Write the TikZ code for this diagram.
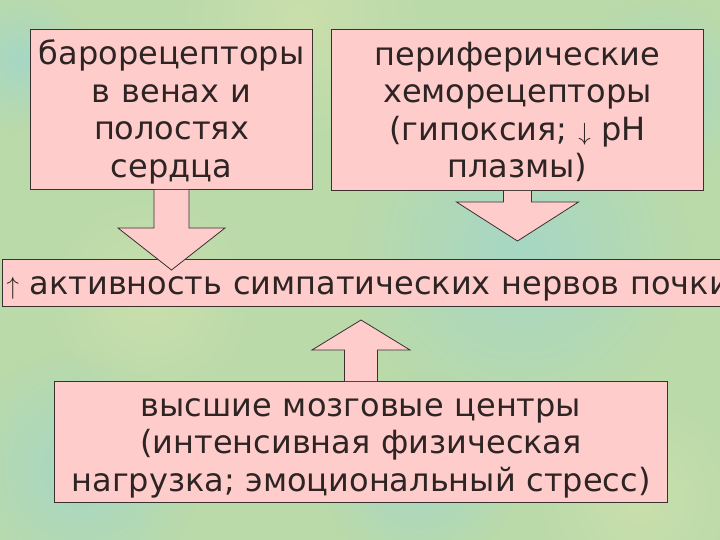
\documentclass[tikz,border=0pt]{standalone}
\usepackage{fontspec}
\setmainfont{DejaVu Sans}
\usetikzlibrary{calc,positioning,fadings}
\definecolor{bggreen}{HTML}{BADAAA}
\definecolor{bgteal}{HTML}{A6D7C5}
\definecolor{bgyellow}{HTML}{CADFAC}
\definecolor{pinkbox}{HTML}{FFCCCC}
\definecolor{boxedge}{HTML}{3A3030}
\definecolor{boxtext}{HTML}{2E2424}
\tikzfading[name=blob, inner color=transparent!0, outer color=transparent!100]
% line box like a slide text frame
\newcommand{\lnstrut}{\rule[-7pt]{0pt}{37pt}}
\tikzset{
  % pink card with a thin dark outline
  card/.style    = {rectangle, draw=boxedge, fill=pinkbox, line width=1pt, align=center,
                    inner sep=0pt, text=boxtext, anchor=north west,
                    font=\fontsize{32}{37.5}\selectfont},
  band/.style    = {card, align=left, inner xsep=4pt},
  arrfill/.style = {fill=pinkbox},
  arredge/.style = {draw=boxedge, line width=0.8pt, line join=miter},
}
% block arrow: tail, tip, shaft half width, head half width, head length
\newcommand{\blockarr}[5]{%
  \coordinate (hb) at ($(#2)!#5!(#1)$);
  \fill[arrfill] ($(#1)!#3!90:(#2)$) -- ($(hb)!#3!90:(#2)$) -- ($(hb)!#4!90:(#2)$) -- (#2)
    -- ($(hb)!#4!-90:(#2)$) -- ($(hb)!#3!-90:(#2)$) -- ($(#1)!#3!-90:(#2)$) -- cycle;
  \draw[arredge] ($(#1)!#3!90:(#2)$) -- ($(hb)!#3!90:(#2)$) -- ($(hb)!#4!90:(#2)$) -- (#2)
    -- ($(hb)!#4!-90:(#2)$) -- ($(hb)!#3!-90:(#2)$) -- ($(#1)!#3!-90:(#2)$);
}

\begin{document}
\begin{tikzpicture}[x=1pt,y=-1pt]
\useasboundingbox (0,0) rectangle (720,540);
\clip (0,0) rectangle (720,540);
% paper
\fill[bggreen] (0,0) rectangle (720,540);
\foreach \x/\y/\r/\c in {520/250/170/bgteal, 80/470/120/bgteal, 660/90/90/bgteal,
                         300/20/130/bgyellow, 150/300/110/bgyellow, 640/500/110/bgyellow,
                         20/60/70/bgteal, 420/470/100/bgteal}
  {\fill[\c, path fading=blob] (\x,\y) circle (\r);}
% boxes
\node[card, text width=282pt, minimum height=160pt] (baro) at (30,29)
  {\lnstrut барорецепторы\\в венах и\\полостях\\\lnstrut сердца};
\node[card, text width=372pt, minimum height=161pt] (chemo) at (331,29)
  {\lnstrut периферические\\хеморецепторы\\(гипоксия; $\downarrow$ pH\\\lnstrut плазмы)};
\node[band, text width=780pt, minimum height=47pt] (symp) at (2,259)
  {\lnstrut$\uparrow$ активность симпатических нервов почки};
\node[card, text width=613pt, minimum height=121pt] (brain) at (54,381)
  {\lnstrut высшие мозговые центры\\(интенсивная физическая\\\lnstrut нагрузка; эмоциональный стресс)};
% arrows
\coordinate (tipA) at ($(baro.south |- symp.north)+(0,11)$);
\coordinate (tipB) at ($(chemo.south |- symp.north)+(0,-18)$);
\coordinate (tipC) at ($(brain.north |- symp.south)+(0,13)$);
\blockarr{baro.south}{tipA}{17.5pt}{53.5pt}{42pt}
\blockarr{chemo.south}{tipB}{14pt}{61pt}{39pt}
\blockarr{brain.north}{tipC}{16.5pt}{49pt}{30pt}
\end{tikzpicture}
\end{document}
